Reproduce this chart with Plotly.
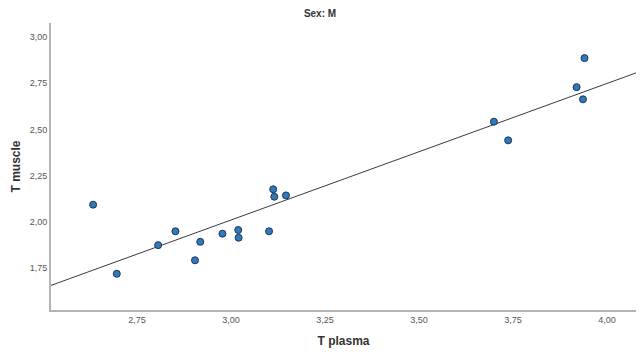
import numpy as np
import plotly.graph_objects as go

t_plasma = [2.633, 2.696, 2.806, 2.852, 2.904, 2.918, 2.977, 3.019, 3.020,
            3.101, 3.112, 3.115, 3.146, 3.699, 3.737, 3.919, 3.940, 3.936]
t_muscle = [2.093, 1.719, 1.874, 1.949, 1.792, 1.892, 1.936, 1.956, 1.914,
            1.949, 2.176, 2.136, 2.143, 2.542, 2.441, 2.729, 2.886, 2.663]
x_ticks = [2.75, 3.00, 3.25, 3.50, 3.75, 4.00]
y_ticks = [1.75, 2.00, 2.25, 2.50, 2.75, 3.00]
x_range = [2.521, 4.077]
y_range = [1.523, 3.076]

slope, intercept = np.polyfit(t_plasma, t_muscle, 1)
line_x = np.array(x_range)
line_y = slope * line_x + intercept

fig = go.Figure()
fig.add_trace(go.Scatter(x=line_x, y=line_y, mode="lines",
                         line=dict(color="#3a3a3a", width=1), hoverinfo="skip"))
fig.add_trace(go.Scatter(x=t_plasma, y=t_muscle, mode="markers",
                         marker=dict(size=7, color="#3079bd",
                                     line=dict(color="#1d3550", width=1))))

axis_common = dict(showgrid=False, zeroline=False, showline=True,
                   linecolor="#b4b4b4", linewidth=2, ticks="",
                   tickformat=".2f", tickfont=dict(size=9, color="#555555"),
                   title_font=dict(size=12, color="#333333",
                                   family="Liberation Sans, Arial, sans-serif"))
fig.update_xaxes(range=x_range, tickvals=x_ticks, **axis_common,
                 title_text="<b>T plasma</b>", title_standoff=13)
fig.update_yaxes(range=y_range, tickvals=y_ticks, **axis_common,
                 title_text="<b>T muscle</b>", title_standoff=6)

fig.update_layout(
    width=640, height=360,
    margin=dict(l=51, r=4, t=23, b=50),
    paper_bgcolor="white", plot_bgcolor="white",
    separators=", ",
    showlegend=False,
    font=dict(family="Liberation Sans, Arial, sans-serif"),
    title=dict(text="<b>Sex: M</b>", x=0.5, xanchor="center", y=0.962,
               yanchor="middle", font=dict(size=10, color="#333333")),
)
fig.write_html("out.html")
